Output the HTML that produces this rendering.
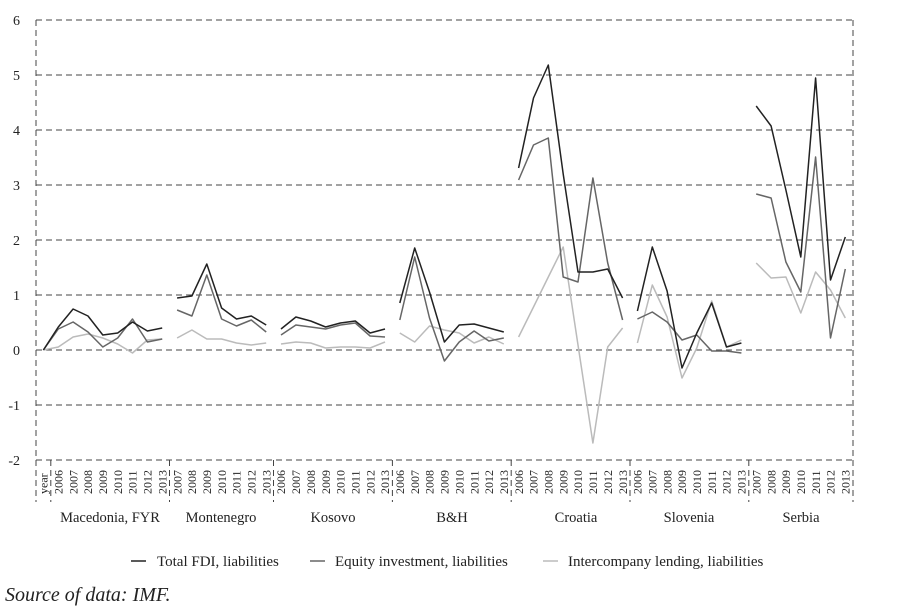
<!DOCTYPE html>
<html><head><meta charset="utf-8"><style>
body{margin:0;background:#fff;}
svg{display:block;font-family:"Liberation Serif",serif;}
</style></head><body>
<svg width="900" height="616" viewBox="0 0 900 616">
<g stroke="#444" stroke-width="1" stroke-dasharray="6,4" fill="none">
<line x1="36" y1="20" x2="853" y2="20"/><line x1="36" y1="75" x2="853" y2="75"/>
<line x1="36" y1="130" x2="853" y2="130"/><line x1="36" y1="185" x2="853" y2="185"/>
<line x1="36" y1="240" x2="853" y2="240"/><line x1="36" y1="295" x2="853" y2="295"/>
<line x1="36" y1="350" x2="853" y2="350"/><line x1="36" y1="405" x2="853" y2="405"/>
<line x1="36" y1="460" x2="853" y2="460"/>
<line x1="36" y1="20" x2="36" y2="502"/><line x1="853" y1="20" x2="853" y2="502"/>
<line x1="50.8" y1="460" x2="50.8" y2="502"/><line x1="169.5" y1="460" x2="169.5" y2="502"/>
<line x1="273.5" y1="460" x2="273.5" y2="502"/><line x1="392.4" y1="460" x2="392.4" y2="502"/>
<line x1="511.2" y1="460" x2="511.2" y2="502"/><line x1="630" y1="460" x2="630" y2="502"/>
<line x1="748.8" y1="460" x2="748.8" y2="502"/>
</g>
<g font-size="14" text-anchor="end" fill="#222">
<text x="20" y="25">6</text><text x="20" y="80">5</text><text x="20" y="135">4</text>
<text x="20" y="190">3</text><text x="20" y="245">2</text><text x="20" y="300">1</text>
<text x="20" y="355">0</text><text x="20" y="410">-1</text><text x="20" y="465">-2</text>
</g>
<g font-size="12" fill="#222" text-anchor="start">
<text transform="translate(47.6,494) rotate(-90)">year</text>
<text transform="translate(62.5,494) rotate(-90)">2006</text>
<text transform="translate(77.3,494) rotate(-90)">2007</text>
<text transform="translate(92.2,494) rotate(-90)">2008</text>
<text transform="translate(107.0,494) rotate(-90)">2009</text>
<text transform="translate(121.9,494) rotate(-90)">2010</text>
<text transform="translate(136.7,494) rotate(-90)">2011</text>
<text transform="translate(151.6,494) rotate(-90)">2012</text>
<text transform="translate(166.4,494) rotate(-90)">2013</text>
<text transform="translate(181.3,494) rotate(-90)">2007</text>
<text transform="translate(196.1,494) rotate(-90)">2008</text>
<text transform="translate(211.0,494) rotate(-90)">2009</text>
<text transform="translate(225.8,494) rotate(-90)">2010</text>
<text transform="translate(240.7,494) rotate(-90)">2011</text>
<text transform="translate(255.5,494) rotate(-90)">2012</text>
<text transform="translate(270.4,494) rotate(-90)">2013</text>
<text transform="translate(285.2,494) rotate(-90)">2006</text>
<text transform="translate(300.1,494) rotate(-90)">2007</text>
<text transform="translate(314.9,494) rotate(-90)">2008</text>
<text transform="translate(329.8,494) rotate(-90)">2009</text>
<text transform="translate(344.6,494) rotate(-90)">2010</text>
<text transform="translate(359.5,494) rotate(-90)">2011</text>
<text transform="translate(374.3,494) rotate(-90)">2012</text>
<text transform="translate(389.2,494) rotate(-90)">2013</text>
<text transform="translate(404.0,494) rotate(-90)">2006</text>
<text transform="translate(418.9,494) rotate(-90)">2007</text>
<text transform="translate(433.7,494) rotate(-90)">2008</text>
<text transform="translate(448.6,494) rotate(-90)">2009</text>
<text transform="translate(463.4,494) rotate(-90)">2010</text>
<text transform="translate(478.3,494) rotate(-90)">2011</text>
<text transform="translate(493.1,494) rotate(-90)">2012</text>
<text transform="translate(508.0,494) rotate(-90)">2013</text>
<text transform="translate(522.8,494) rotate(-90)">2006</text>
<text transform="translate(537.7,494) rotate(-90)">2007</text>
<text transform="translate(552.5,494) rotate(-90)">2008</text>
<text transform="translate(567.4,494) rotate(-90)">2009</text>
<text transform="translate(582.2,494) rotate(-90)">2010</text>
<text transform="translate(597.1,494) rotate(-90)">2011</text>
<text transform="translate(611.9,494) rotate(-90)">2012</text>
<text transform="translate(626.8,494) rotate(-90)">2013</text>
<text transform="translate(641.6,494) rotate(-90)">2006</text>
<text transform="translate(656.5,494) rotate(-90)">2007</text>
<text transform="translate(671.3,494) rotate(-90)">2008</text>
<text transform="translate(686.2,494) rotate(-90)">2009</text>
<text transform="translate(701.0,494) rotate(-90)">2010</text>
<text transform="translate(715.9,494) rotate(-90)">2011</text>
<text transform="translate(730.7,494) rotate(-90)">2012</text>
<text transform="translate(745.6,494) rotate(-90)">2013</text>
<text transform="translate(760.4,494) rotate(-90)">2007</text>
<text transform="translate(775.3,494) rotate(-90)">2008</text>
<text transform="translate(790.1,494) rotate(-90)">2009</text>
<text transform="translate(805.0,494) rotate(-90)">2010</text>
<text transform="translate(819.8,494) rotate(-90)">2011</text>
<text transform="translate(834.7,494) rotate(-90)">2012</text>
<text transform="translate(849.5,494) rotate(-90)">2013</text>
</g>
<g font-size="14.5" fill="#222" text-anchor="middle">
<text x="110" y="522">Macedonia, FYR</text><text x="221" y="522">Montenegro</text>
<text x="333" y="522">Kosovo</text><text x="452" y="522">B&amp;H</text>
<text x="576" y="522">Croatia</text><text x="689" y="522">Slovenia</text>
<text x="801" y="522">Serbia</text>
</g>
<g fill="none" stroke-width="1.5" stroke-linejoin="round">
<g stroke="#bbb">
<polyline points="43.4,350 58.3,347 73.1,337 88,334 102.8,338 117.7,344 132.5,353 147.4,340 162.2,339"/>
<polyline points="177.1,338 191.9,330 206.8,339 221.6,339 236.5,343 251.3,345 266.2,343"/>
<polyline points="281,344 295.9,342 310.7,343 325.6,348 340.4,347 355.3,347 370.1,348 385,342"/>
<polyline points="399.8,333 414.7,342 429.5,326 444.4,330 459.2,333 474.1,343 488.9,337 503.8,344"/>
<polyline points="518.6,337 533.5,307 548.3,277 563.2,247 578,345 592.9,443 607.7,347 622.6,328"/>
<polyline points="637.4,343 652.3,285 667.1,317 682,378 696.8,348 711.7,301 726.5,347 741.4,340"/>
<polyline points="756.2,263 771.1,278 785.9,277 800.8,313 815.6,272 830.5,290 845.3,318"/>
</g>
<g stroke="#666">
<polyline points="43.4,350 58.3,329 73.1,322 88,332 102.8,347 117.7,338 132.5,319 147.4,342 162.2,339"/>
<polyline points="177.1,310 191.9,316 206.8,275 221.6,319 236.5,326 251.3,320 266.2,332"/>
<polyline points="281,335 295.9,325 310.7,327 325.6,329 340.4,325 355.3,323 370.1,336 385,337"/>
<polyline points="399.8,320 414.7,257 429.5,318 444.4,361 459.2,342 474.1,331 488.9,341 503.8,338"/>
<polyline points="518.6,180 533.5,145 548.3,138 563.2,277 578,282 592.9,178 607.7,263 622.6,320"/>
<polyline points="637.4,319 652.3,312 667.1,322 682,340 696.8,335 711.7,351 726.5,351 741.4,353"/>
<polyline points="756.2,194 771.1,198 785.9,262 800.8,292 815.6,157 830.5,338 845.3,269"/>
</g>
<g stroke="#222">
<polyline points="43.4,350 58.3,327 73.1,309 88,316 102.8,335 117.7,333 132.5,322 147.4,331 162.2,328"/>
<polyline points="177.1,298 191.9,296 206.8,264 221.6,308 236.5,319 251.3,316 266.2,325"/>
<polyline points="281,329 295.9,317 310.7,321 325.6,327 340.4,323 355.3,321 370.1,333 385,329"/>
<polyline points="399.8,303 414.7,248 429.5,292 444.4,342 459.2,325 474.1,324 488.9,328 503.8,332"/>
<polyline points="518.6,168 533.5,98 548.3,65 563.2,174 578,272 592.9,272 607.7,269 622.6,298"/>
<polyline points="637.4,311 652.3,247 667.1,291 682,368 696.8,333 711.7,303 726.5,347 741.4,343"/>
<polyline points="756.2,106 771.1,126 785.9,190 800.8,257 815.6,78 830.5,280 845.3,237"/>
</g>
</g>
<g font-size="15" fill="#222">
<line x1="131" y1="561" x2="146" y2="561" stroke="#222" stroke-width="1.5"/>
<text x="157" y="566">Total FDI, liabilities</text>
<line x1="310" y1="561" x2="325" y2="561" stroke="#666" stroke-width="1.5"/>
<text x="335" y="566">Equity investment, liabilities</text>
<line x1="543" y1="561" x2="558" y2="561" stroke="#bbb" stroke-width="1.5"/>
<text x="568" y="566">Intercompany lending, liabilities</text>
</g>
<text x="5" y="601" font-size="20" font-style="italic" fill="#222">Source of data: IMF.</text>
</svg>
</body></html>
